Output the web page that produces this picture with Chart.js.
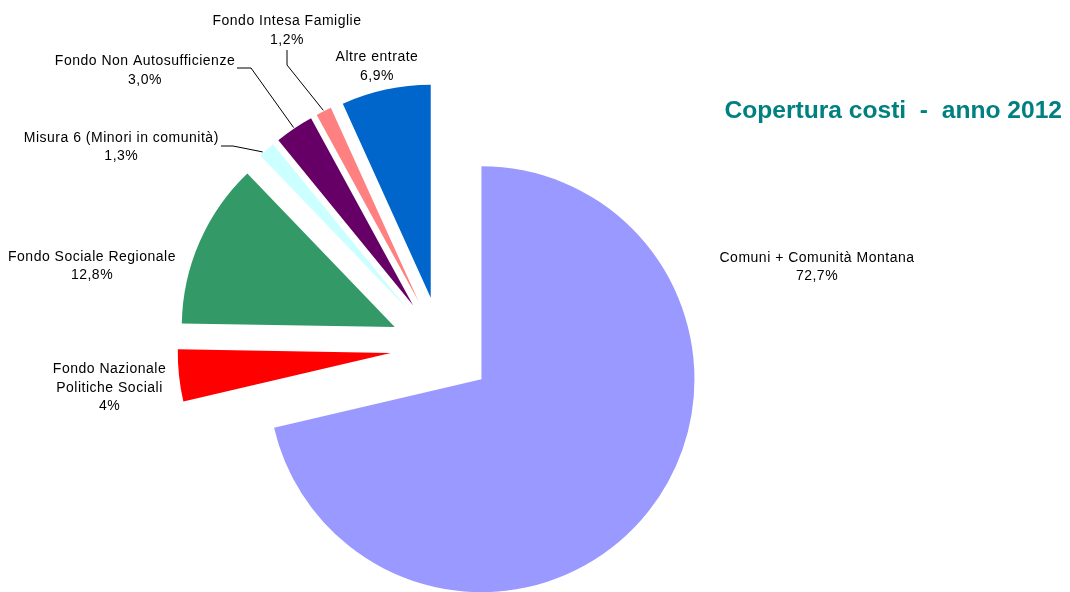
<!DOCTYPE html>
<html>
<head>
<meta charset="utf-8">
<title>Copertura costi - anno 2012</title>
<script src="https://cdn.jsdelivr.net/npm/chart.js@4/dist/chart.umd.min.js"></script>
<style>
  html, body { margin: 0; padding: 0; background: #ffffff; overflow: hidden; }
  canvas { display: block; }
</style>
</head>
<body>
<canvas id="chart" width="1070" height="592"></canvas>
<script>
// Funding sources (each entry is the list of label lines)
const categories = [
  ['Comuni + Comunità Montana'],
  ['Fondo Nazionale', 'Politiche Sociali'],
  ['Fondo Sociale Regionale'],
  ['Misura 6 (Minori in comunità)'],
  ['Fondo Non Autosufficienze'],
  ['Fondo Intesa Famiglie'],
  ['Altre entrate']
];
// Share of the costs covered, in percent
const shares = [72.7, 4, 12.8, 1.3, 3.0, 1.2, 6.9];
// Decimals shown in each percentage label
const shareDecimals = [1, 0, 1, 1, 1, 1, 1];
const sliceColors = ['#9999FF', '#FF0000', '#339966', '#CCFFFF', '#660066', '#FF8080', '#0066CC'];
const titleText = 'Copertura costi  -  anno 2012';

// ---- layout ----
const PIE_RADIUS = 213;
const EXPLODE = 51;            // distance every slice is pulled out from the centre
const LINE_HEIGHT = 18.5;
// centre x / first-line baseline of each label
const labelPlacement = [
  { x: 817, y: 261.7 },
  { x: 109.5, y: 373.3 },
  { x: 92, y: 260.7 },
  { x: 121.3, y: 141.7 },
  { x: 145, y: 65 },
  { x: 287, y: 25 },
  { x: 377, y: 61 }
];
// leader lines: elbow points near the label, then a point on the slice rim
const leaderElbows = [null, null, null, [[221, 146], [233, 146]], [[237, 68], [251, 68]], [[287, 50], [287, 65]], null];
const leaderAt = [0.5, 0.5, 0.5, 0.25, 0.5, 0.5, 0.5];

function formatShare(v, d) {
  return v.toFixed(d).replace('.', ',') + '%';
}

// Pulls every arc outwards along its bisector (classic exploded pie)
const explodePlugin = {
  id: 'explodeSlices',
  beforeDatasetDraw(chart, args) {
    args.meta.data.forEach(arc => {
      if (arc.$exploded) return;
      const baseDraw = arc.draw;
      arc.draw = function (ctx, area) {
        const mid = (this.startAngle + this.endAngle) / 2;
        ctx.save();
        ctx.translate(Math.cos(mid) * EXPLODE, Math.sin(mid) * EXPLODE);
        baseDraw.call(this, ctx, area);
        ctx.restore();
      };
      arc.$exploded = true;
    });
  }
};

// Category names, percentages and leader lines
const labelPlugin = {
  id: 'sliceLabels',
  afterDatasetsDraw(chart) {
    const ctx = chart.ctx;
    const arcs = chart.getDatasetMeta(0).data;
    ctx.save();
    // leader lines
    ctx.strokeStyle = '#000000';
    ctx.lineWidth = 1;
    arcs.forEach((arc, i) => {
      const elbows = leaderElbows[i];
      if (!elbows) return;
      const a = arc.startAngle + (arc.endAngle - arc.startAngle) * leaderAt[i];
      const mid = (arc.startAngle + arc.endAngle) / 2;
      const ox = arc.x + Math.cos(mid) * EXPLODE;
      const oy = arc.y + Math.sin(mid) * EXPLODE;
      const ex = ox + Math.cos(a) * (arc.outerRadius + 1);
      const ey = oy + Math.sin(a) * (arc.outerRadius + 1);
      ctx.beginPath();
      ctx.moveTo(elbows[0][0], elbows[0][1]);
      for (let k = 1; k < elbows.length; k++) ctx.lineTo(elbows[k][0], elbows[k][1]);
      ctx.lineTo(ex, ey);
      ctx.stroke();
    });
    // texts
    ctx.fillStyle = '#000000';
    ctx.font = '14px "Liberation Sans", Arial, sans-serif';
    ctx.letterSpacing = '0.5px';
    ctx.textAlign = 'center';
    ctx.textBaseline = 'alphabetic';
    categories.forEach((lines, i) => {
      const p = labelPlacement[i];
      const all = lines.concat([formatShare(shares[i], shareDecimals[i])]);
      all.forEach((t, k) => ctx.fillText(t, p.x, p.y + k * LINE_HEIGHT));
    });
    ctx.restore();
  }
};

// Title on the right-hand side
const titlePlugin = {
  id: 'sideTitle',
  afterDraw(chart) {
    const ctx = chart.ctx;
    ctx.save();
    ctx.fillStyle = '#008080';
    ctx.font = 'bold 24.6px "Liberation Sans", Arial, sans-serif';
    ctx.textAlign = 'right';
    ctx.textBaseline = 'alphabetic';
    ctx.fillText(titleText, 1062, 118);
    ctx.restore();
  }
};

new Chart(document.getElementById('chart'), {
  type: 'pie',
  data: {
    labels: categories.map(c => c.join(' ')),
    datasets: [{
      data: shares,
      backgroundColor: sliceColors,
      borderWidth: 0,
      hoverOffset: 0
    }]
  },
  options: {
    responsive: false,
    devicePixelRatio: 1,
    animation: false,
    events: [],
    radius: PIE_RADIUS,
    layout: { padding: { left: 0, right: 187, top: 103, bottom: 0 } },
    plugins: {
      legend: { display: false },
      tooltip: { enabled: false },
      title: { display: false }
    }
  },
  plugins: [explodePlugin, labelPlugin, titlePlugin]
});
</script>
</body>
</html>
